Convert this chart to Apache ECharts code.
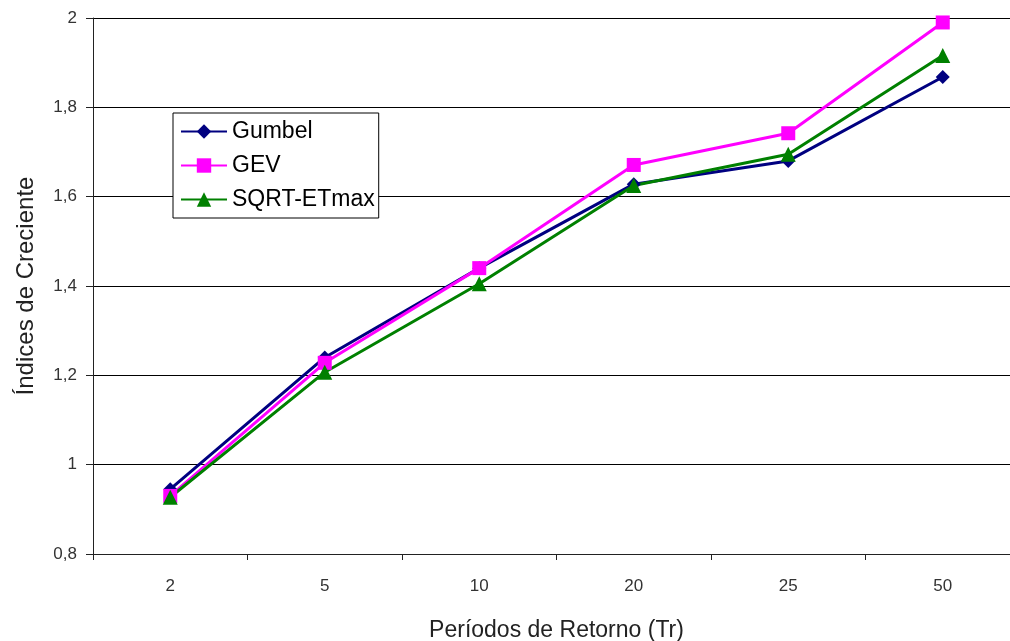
<!DOCTYPE html>
<html><head><meta charset="utf-8">
<script src="https://cdn.jsdelivr.net/npm/echarts@6/dist/echarts.min.js"></script>
<style>html,body{margin:0;padding:0;background:#fff}#c{width:1010px;height:641px}</style>
</head><body><div id="c"></div>
<script>
const categories = ['2', '5', '10', '20', '25', '50'];
const gumbel = [0.945, 1.24, 1.44, 1.628, 1.68, 1.868];
const gev = [0.93, 1.228, 1.44, 1.671, 1.742, 1.99];
const sqrtEt = [0.927, 1.207, 1.405, 1.625, 1.695, 1.916];
const seriesNames = ['Gumbel', 'GEV', 'SQRT-ETmax'];

const font = 'Liberation Sans, Arial, sans-serif';
const chart = echarts.init(document.getElementById('c'));
function mk(name, data, color, symbol, size) {
  return {
    name, type: 'line', data, symbol, symbolSize: size,
    lineStyle: { color, width: 3 }, itemStyle: { color },
    emphasis: { disabled: true }, animation: false
  };
}
chart.setOption({
  animation: false,
  grid: { left: 93, right: -10, top: 18, bottom: 87, containLabel: false, outerBoundsMode: 'none' },
  legend: {
    orient: 'vertical', left: 173, top: 113,
    backgroundColor: '#fff', borderColor: '#000', borderWidth: 1,
    padding: [7, 4, 7, 7], itemGap: 11, itemWidth: 46, itemHeight: 18,
    textStyle: { fontFamily: font, fontSize: 23, color: '#000', padding: [0, 0, 0, 0] },
    data: seriesNames
  },
  xAxis: {
    type: 'category', data: categories, boundaryGap: true,
    name: 'Períodos de Retorno (Tr)', nameLocation: 'middle', nameGap: 65,
    nameTextStyle: { fontFamily: font, fontSize: 23, color: '#222' },
    axisLine: { lineStyle: { color: '#222', width: 1 } },
    axisTick: { show: true, length: 6, lineStyle: { color: '#222' } },
    axisLabel: { fontFamily: font, fontSize: 17, color: '#333', margin: 24 },
    splitLine: { show: false }
  },
  yAxis: {
    type: 'value', min: 0.8, max: 2, interval: 0.2,
    name: 'Índices de Creciente', nameLocation: 'middle', nameGap: 55,
    nameTextStyle: { fontFamily: font, fontSize: 24, color: '#222' },
    axisLine: { show: true, lineStyle: { color: '#222', width: 1 } },
    axisTick: { show: true, length: 7, lineStyle: { color: '#222' } },
    axisLabel: { fontFamily: font, fontSize: 17, color: '#333', margin: 16,
      formatter: v => String(Math.round(v * 10) / 10).replace('.', ',') },
    splitLine: { show: true, lineStyle: { color: '#000', width: 1 } }
  },
  series: [
    mk(seriesNames[0], gumbel, '#000080', 'diamond', 14),
    mk(seriesNames[1], gev, '#FF00FF', 'rect', 14),
    mk(seriesNames[2], sqrtEt, '#008000', 'triangle', 15)
  ]
});
</script></body></html>
